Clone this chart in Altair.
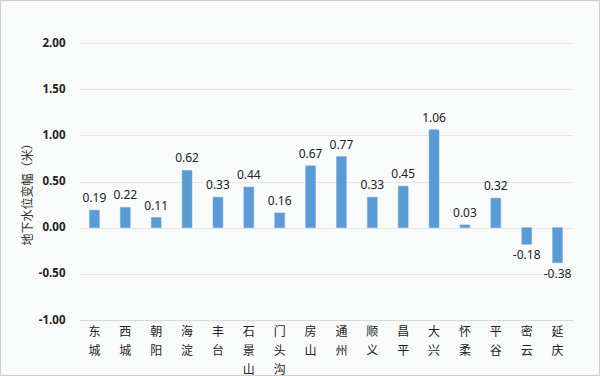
import altair as alt
import pandas as pd

districts = ["东城", "西城", "朝阳", "海淀", "丰台", "石景山", "门头沟", "房山",
             "通州", "顺义", "昌平", "大兴", "怀柔", "平谷", "密云", "延庆"]
values = [0.19, 0.22, 0.11, 0.62, 0.33, 0.44, 0.16, 0.67,
          0.77, 0.33, 0.45, 1.06, 0.03, 0.32, -0.18, -0.38]

df = pd.DataFrame({"district": districts, "value": values})

cjk = "Noto Sans CJK SC"
num = "Noto Sans"

x = alt.X("district:N", sort=districts, title=None,
          scale=alt.Scale(paddingInner=0.68, paddingOuter=0.34),
          axis=alt.Axis(labelAngle=0, labelExpr="split(datum.label, '')",
                        labelFont=cjk, labelFontSize=12, labelColor="#222",
                        labelLineHeight=19, labelPadding=6, labelBaseline="top",
                        ticks=False, domain=True, domainColor="#d9d9d9", grid=False))
y = alt.Y("value:Q", title="地下水位变幅（米）",
          scale=alt.Scale(domain=[-1, 2], nice=False),
          axis=alt.Axis(values=[-1, -0.5, 0, 0.5, 1, 1.5, 2], format=".2f",
                        labelExpr="replace(datum.label, '\u2212', '-')",
                        labelFont=num, labelFontSize=11.5, labelFontWeight="bold",
                        labelColor="#222", labelPadding=14,
                        ticks=False, domain=False, gridColor="#e6e6e6",
                        titleFont=cjk, titleFontSize=12, titleFontWeight="normal",
                        titleColor="#333", titlePadding=4, titleY=148))

base = alt.Chart(df).transform_calculate(
    lbl="replace(format(datum.value, '.2f'), '\u2212', '-')")

bars = base.mark_bar(color="#5b9bd5", stroke="#6fa8dc", strokeWidth=0.5).encode(x=x, y=y)

pos_text = base.transform_filter("datum.value >= 0").mark_text(
    baseline="bottom", dy=-5, font=num, fontSize=12, color="#222"
).encode(x=x, y=y, text="lbl:N")

neg_text = base.transform_filter("datum.value < 0").mark_text(
    baseline="top", dy=6, font=num, fontSize=12, color="#222"
).encode(x=x, y=y, text="lbl:N")

border = alt.Chart(df).mark_rect(fill=None, stroke="#cfcfcf", strokeWidth=1).encode(
    x=alt.value(-78.5), x2=alt.value(520.5), y=alt.value(-42.5), y2=alt.value(332.5))

chart = alt.layer(bars, pos_text, neg_text, border).properties(
    width=494, height=277,
    padding={"left": 79, "top": 43, "right": 27, "bottom": 56},
    autosize=alt.AutoSizeParams(type="none"),
    background="#f9fafa",
).configure_view(stroke=None)

chart.save("out.html", embed_options={"renderer": "svg", "actions": False})
